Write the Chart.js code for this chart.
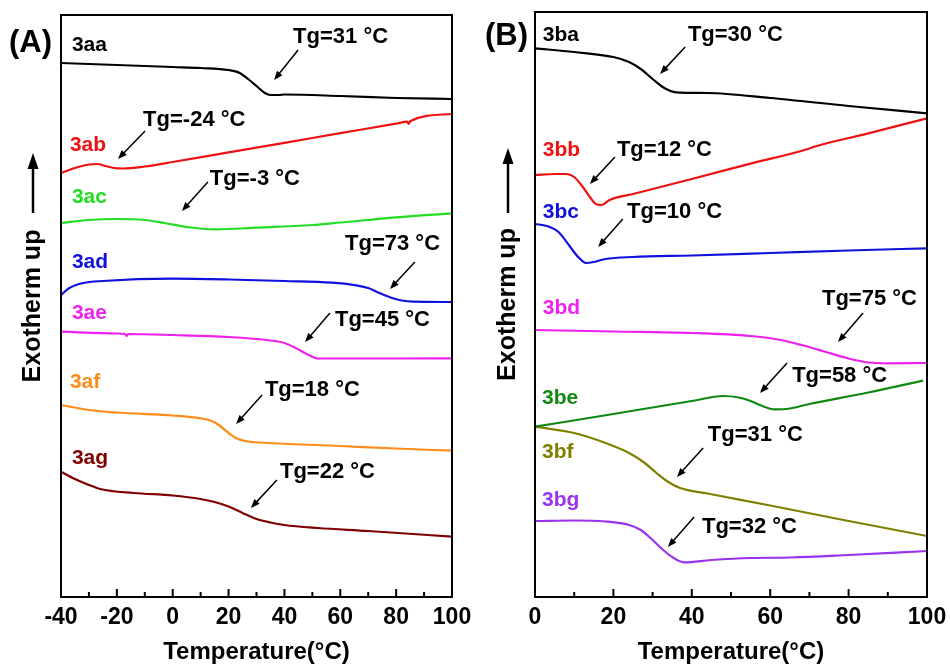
<!DOCTYPE html>
<html>
<head>
<meta charset="utf-8">
<script src="https://cdn.jsdelivr.net/npm/chart.js@4.4.0/dist/chart.umd.min.js"></script>
<style>
html, body { margin: 0; padding: 0; background: #fff; }
#wrap { position: relative; width: 950px; height: 664px; overflow: hidden; }
#chartA { position: absolute; left: 0; top: 0; }
#chartB { position: absolute; left: 475px; top: 0; }
</style>
</head>
<body>
<div id="wrap">
  <canvas id="chartA" width="475" height="664"></canvas>
  <canvas id="chartB" width="475" height="664"></canvas>
</div>
<script>
// ---- panel A data (temperature in degC, heat flow in arbitrary units, offset per curve)
const aaT = [-40, -20, 0, 10, 20, 24, 27, 30, 33, 35, 38, 40, 60, 80, 100];
const aaY = [534, 532, 530, 529, 527, 524, 518, 511, 504, 502, 502, 502.5, 501, 499, 498];
const abT = [-40, -35, -30, -27, -24, -21, -18, -10, 0, 20, 40, 60, 80, 84, 84.5, 85, 100];
const abY = [424, 429, 432.5, 433, 431, 429, 428.5, 430.5, 435, 444.6, 454.2, 463.8, 473.4, 475.3, 473, 475.8, 483];
const acT = [-40, -30, -20, -10, -3, 5, 15, 30, 50, 60, 80, 100];
const acY = [374, 377, 378, 377, 374, 370, 367.7, 369.3, 372, 374.5, 379.7, 383.7];
const adT = [-40, -37, -32, -25, 0, 20, 40, 57, 65, 70, 74, 78, 82, 86, 100];
const adY = [302, 309, 314, 316, 318.3, 317.5, 316, 314.3, 312, 309, 304, 299.5, 296.5, 295.3, 295];
const aeT = [-40, -20, -17, -16.5, -16, 0, 20, 35, 40, 44, 48, 52, 60, 80, 100];
const aeY = [265.3, 263.5, 263, 261, 263, 262, 260, 256.5, 254, 249, 243, 238.5, 238.5, 238.5, 238.7];
const afT = [-40, -30, -20, 0, 10, 14, 17, 20, 23, 27, 35, 60, 80, 100];
const afY = [192, 187, 184.5, 181.5, 178.7, 176, 171, 164, 158.5, 155.5, 154, 151, 148.5, 146.3];
const agT = [-40, -35, -30, -26, -14, 0, 10, 15, 20, 25, 30, 35, 40, 52, 70, 100];
const agY = [125.3, 118, 112, 108, 104, 101.5, 98, 95, 90.5, 84, 78, 74.5, 72, 69, 66, 60.3];

// ---- panel B data
const baT = [0, 10, 20, 24, 27, 30, 33, 36, 44, 60, 80, 100];
const baY = [548.7, 545, 540, 535, 528, 518, 509, 504.7, 504, 499, 491, 483.7];
const bbT = [0, 5, 8, 10, 12, 14, 15.5, 17, 19, 25, 40, 55, 70, 71, 85, 100];
const bbY = [422, 423, 423, 420, 411, 400, 393, 392, 397, 403, 418, 433.4, 448.5, 450, 463.6, 478.7];
const bcT = [0, 3, 6, 9, 11, 13, 15, 18, 25, 40, 60, 80, 100];
const bcY = [373, 371, 365, 350, 340, 334, 335, 338, 340, 341.5, 344, 346.5, 348.7];
const bdT = [0, 20, 40, 55, 62, 68, 74, 80, 85, 90, 100];
const bdY = [267, 265.5, 264, 261, 257.5, 252, 245.3, 238.5, 234.5, 233.7, 234];
const beT = [0, 20, 40, 48, 52, 55, 58, 61, 64, 70, 85, 99];
const beY = [170.3, 183, 196, 201, 199.5, 196, 191, 187.7, 188, 193, 204.5, 216.3];
const bfT = [0, 10, 18, 24, 28, 31, 34, 37, 44, 60, 80, 100];
const bfY = [170.3, 164, 154, 144, 134, 124, 115, 109, 103.5, 91.5, 76, 61];
const bgT = [0, 10, 18, 24, 27, 30, 33, 35, 38, 45, 55, 65, 80, 100];
const bgY = [76, 76.5, 75.5, 72, 67, 57, 46, 40, 34.7, 37, 39, 39.5, 42, 46];

const xTicksA = [-40, -20, 0, 20, 40, 60, 80, 100];
const xTicksB = [0, 20, 40, 60, 80, 100];

const fontFam = '"Liberation Sans", Arial, sans-serif';

function series(label, xs, ys, color) {
    return {
        label: label,
        data: xs.map((x, i) => ({ x: x, y: ys[i] })),
        borderColor: color,
        borderWidth: 2.2,
        pointRadius: 0,
        fill: false,
        cubicInterpolationMode: 'monotone'
    };
}

// curve names + Tg notes with arrows, placed in data coords
const notesA = [
    { text: '3aa', x: -36.1, y: 552, color: '#000000', size: 21 },
    { text: '3ab', x: -36.8, y: 452, color: '#ee1111', size: 21 },
    { text: '3ac', x: -36.1, y: 400, color: '#22dd22', size: 21 },
    { text: '3ad', x: -36.1, y: 335, color: '#1111dd', size: 21 },
    { text: '3ae', x: -36.1, y: 284, color: '#ee22ee', size: 21 },
    { text: '3af', x: -36.8, y: 215, color: '#ff8c1a', size: 21 },
    { text: '3ag', x: -36.1, y: 139, color: '#800000', size: 21 },
    { text: 'Tg=31 °C', x: 43.1, y: 560, color: '#000', size: 22 },
    { text: 'Tg=-24 °C', x: -10.6, y: 477, color: '#000', size: 22 },
    { text: 'Tg=-3 °C', x: 13.3, y: 418, color: '#000', size: 22 },
    { text: 'Tg=73 °C', x: 61.7, y: 353, color: '#000', size: 22 },
    { text: 'Tg=45 °C', x: 58.1, y: 277, color: '#000', size: 22 },
    { text: 'Tg=18 °C', x: 33.0, y: 207, color: '#000', size: 22 },
    { text: 'Tg=22 °C', x: 38.4, y: 125, color: '#000', size: 22 }
];
const arrowsA = [
    [44.9, 547, 36.3, 517],
    [-9.9, 466, -19.6, 438],
    [12.6, 415, 3.3, 386],
    [86.7, 335, 77.8, 308],
    [56.3, 284, 47.4, 255],
    [32.0, 202, 22.7, 173],
    [37.3, 117, 28.0, 89]
];
const notesB = [
    { text: '3ba', x: 2.0, y: 562, color: '#000000', size: 21 },
    { text: '3bb', x: 2.0, y: 447, color: '#ee1111', size: 21 },
    { text: '3bc', x: 2.0, y: 385, color: '#1111dd', size: 21 },
    { text: '3bd', x: 2.0, y: 289, color: '#ee22ee', size: 21 },
    { text: '3be', x: 1.8, y: 199, color: '#118811', size: 21 },
    { text: '3bf', x: 1.8, y: 145, color: '#808000', size: 21 },
    { text: '3bg', x: 1.8, y: 97, color: '#9933ee', size: 21 },
    { text: 'Tg=30 °C', x: 39.0, y: 562, color: '#000', size: 22 },
    { text: 'Tg=12 °C', x: 20.9, y: 447, color: '#000', size: 22 },
    { text: 'Tg=10 °C', x: 23.5, y: 385, color: '#000', size: 22 },
    { text: 'Tg=75 °C', x: 73.2, y: 298, color: '#000', size: 22 },
    { text: 'Tg=58 °C', x: 65.6, y: 221, color: '#000', size: 22 },
    { text: 'Tg=31 °C', x: 44.1, y: 162, color: '#000', size: 22 },
    { text: 'Tg=32 °C', x: 42.6, y: 70, color: '#000', size: 22 }
];
const arrowsB = [
    [38.3, 550, 31.9, 523],
    [20.4, 440, 14.0, 413],
    [22.4, 378, 16.1, 350],
    [83.7, 284, 77.3, 255],
    [64.3, 234, 57.4, 204],
    [42.9, 149, 36.2, 120],
    [40.6, 80, 33.9, 50]
];

function drawArrow(ctx, x1, y1, x2, y2, head, half) {
    const a = Math.atan2(y2 - y1, x2 - x1);
    const c = Math.cos(a), s = Math.sin(a);
    ctx.beginPath();
    ctx.moveTo(x1, y1);
    ctx.lineTo(x2 - c * head * 0.7, y2 - s * head * 0.7);
    ctx.stroke();
    ctx.beginPath();
    ctx.moveTo(x2, y2);
    ctx.lineTo(x2 - head * c + half * s, y2 - head * s - half * c);
    ctx.lineTo(x2 - head * c - half * s, y2 - head * s + half * c);
    ctx.closePath();
    ctx.fill();
}

function makeDeco(notes, arrows, panel, panelPos, upArrow) {
    return {
        id: 'deco',
        afterDatasetsDraw(chart) {
            const { ctx, chartArea: a, scales: { x, y } } = chart;
            ctx.save();
            ctx.strokeStyle = '#000';
            ctx.fillStyle = '#000';
            ctx.lineWidth = 2;
            ctx.strokeRect(a.left, a.top, a.right - a.left, a.bottom - a.top);
            // inward ticks on the bottom axis
            x.ticks.forEach(t => {
                const px = x.getPixelForValue(t.value);
                const len = t.value % 20 === 0 ? 8 : 5;
                ctx.beginPath();
                ctx.moveTo(px, a.bottom);
                ctx.lineTo(px, a.bottom - len);
                ctx.stroke();
            });
            ctx.textAlign = 'left';
            ctx.textBaseline = 'middle';
            notes.forEach(n => {
                ctx.font = 'bold ' + n.size + 'px ' + fontFam;
                ctx.fillStyle = n.color;
                ctx.fillText(n.text, x.getPixelForValue(n.x), y.getPixelForValue(n.y));
            });
            ctx.fillStyle = '#000';
            ctx.lineWidth = 1.5;
            arrows.forEach(r => {
                drawArrow(ctx, x.getPixelForValue(r[0]), y.getPixelForValue(r[1]),
                    x.getPixelForValue(r[2]), y.getPixelForValue(r[3]), 9, 3.5);
            });
            ctx.font = 'bold 31px ' + fontFam;
            ctx.fillText(panel, panelPos[0], panelPos[1]);
            // arrow next to the y title
            ctx.lineWidth = 2.5;
            drawArrow(ctx, 33, upArrow[0], 33, upArrow[1], 16, 5.5);
            ctx.restore();
        }
    };
}

function makePanel(id, xmin, xmax, ymax, padTop, yWidth, datasets, labelTicks, deco) {
    const ctx = document.getElementById(id).getContext('2d');
    return new Chart(ctx, {
        type: 'line',
        data: { datasets: datasets },
        options: {
            responsive: false,
            animation: false,
            layout: { padding: { left: 0, right: 23, top: padTop, bottom: 0 } },
            plugins: { legend: { display: false }, tooltip: { enabled: false } },
            scales: {
                x: {
                    type: 'linear',
                    min: xmin,
                    max: xmax,
                    grid: { display: false },
                    border: { display: false },
                    ticks: {
                        stepSize: 10,
                        autoSkip: false,
                        maxRotation: 0,
                        padding: -1,
                        color: '#000',
                        font: { family: fontFam, size: 23, weight: 'bold' },
                        callback: v => labelTicks.includes(v) ? v : ''
                    },
                    title: {
                        display: true,
                        text: 'Temperature(°C)',
                        color: '#000',
                        font: { family: fontFam, size: 24, weight: 'bold', lineHeight: 1 },
                        padding: { top: 0, bottom: 0 }
                    },
                    afterFit: s => { s.height = 67; s.paddingLeft = 0; s.paddingRight = 0; }
                },
                y: {
                    min: 0,
                    max: ymax,
                    grid: { display: false },
                    border: { display: false },
                    ticks: { display: false },
                    title: {
                        display: true,
                        text: 'Exotherm up',
                        color: '#000',
                        font: { family: fontFam, size: 25, weight: 'bold', lineHeight: 1.2 },
                        padding: { top: 18, bottom: 0 }
                    },
                    afterFit: s => { s.width = yWidth; }
                }
            }
        },
        plugins: [deco]
    });
}

makePanel('chartA', -40, 100, 582, 15, 61, [
    series('3aa', aaT, aaY, '#000000'),
    series('3ab', abT, abY, '#ee1111'),
    series('3ac', acT, acY, '#22dd22'),
    series('3ad', adT, adY, '#1111dd'),
    series('3ae', aeT, aeY, '#ee22ee'),
    series('3af', afT, afY, '#ff8c1a'),
    series('3ag', agT, agY, '#800000')
], xTicksA, makeDeco(notesA, arrowsA, '(A)', [9, 43], [213, 153]));

makePanel('chartB', 0, 100, 585, 12, 60, [
    series('3ba', baT, baY, '#000000'),
    series('3bb', bbT, bbY, '#ee1111'),
    series('3bc', bcT, bcY, '#1111dd'),
    series('3bd', bdT, bdY, '#ee22ee'),
    series('3be', beT, beY, '#118811'),
    series('3bf', bfT, bfY, '#808000'),
    series('3bg', bgT, bgY, '#9933ee')
], xTicksB, makeDeco(notesB, arrowsB, '(B)', [10, 36], [213, 148]));
</script>
</body>
</html>
